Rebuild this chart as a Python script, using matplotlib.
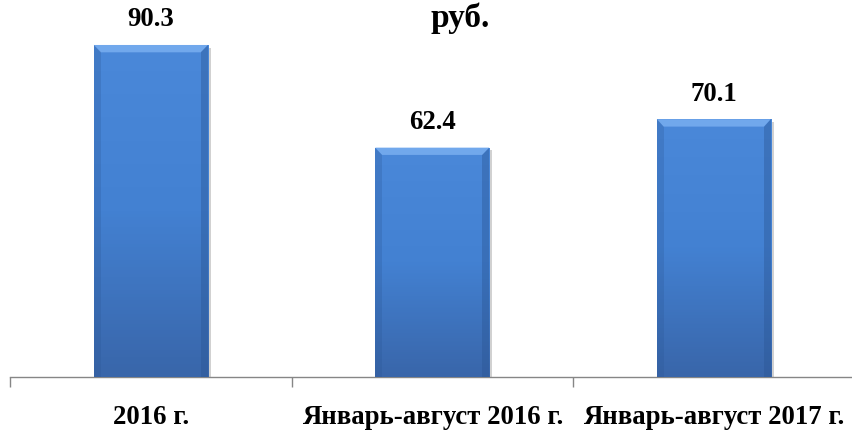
import numpy as np
import matplotlib
matplotlib.use('Agg')
import matplotlib.pyplot as plt
import matplotlib.patheffects as pe
from matplotlib.colors import LinearSegmentedColormap

categories = ['2016 г.', 'Январь-август 2016 г.', 'Январь-август 2017 г.']
values = [90.3, 62.4, 70.1]
title_text = 'руб.'

plt.rcParams['font.family'] = ['Liberation Serif', 'DejaVu Serif']
plt.rcParams['font.weight'] = 'bold'

fig = plt.figure(figsize=(8.52, 4.30), dpi=100)
ax = fig.add_axes([10 / 852, 53 / 430, 844.5 / 852, 367.7 / 430])

x = np.arange(len(categories))
bars = ax.bar(x, values, width=0.405, color='#4582d2', zorder=2,
              edgecolor='#2f5f9e', linewidth=0.6)

# soft drop shadow and vertical gradient like the office-style bars
grad = LinearSegmentedColormap.from_list('g', ['#3966aa', '#4381d2', '#4a88d9'])
for b in bars:
    b.set_path_effects([pe.SimplePatchShadow(offset=(2, -2), shadow_rgbFace='#9a9a9a',
                                              alpha=0.45), pe.Normal()])
    bx, bw, bh = b.get_x(), b.get_width(), b.get_height()
    img = ax.imshow(np.linspace(0, 1, 100).reshape(-1, 1), cmap=grad, origin='lower',
                    extent=(bx, bx + bw, 0, bh), aspect='auto', zorder=3)
    img.set_clip_path(b)
    # bevel highlight along the top edge
    ax.fill([bx, bx + bw, bx + bw * 0.94, bx + bw * 0.06],
            [bh, bh, bh - 2.0, bh - 2.0], color='#79aef0', alpha=0.85,
            zorder=4, lw=0)
    ax.fill([bx + bw, bx + bw, bx + bw * 0.94, bx + bw * 0.94],
            [bh, 0, 0, bh - 2.0], color='#2a5593', alpha=0.4, zorder=4, lw=0)
    ax.fill([bx, bx, bx + bw * 0.06, bx + bw * 0.06],
            [bh, 0, 0, bh - 2.0], color='#2a5593', alpha=0.25, zorder=4, lw=0)

for xi, v in zip(x, values):
    ax.annotate(f'{v:.1f}', (xi, v), xytext=(0, 18), textcoords='offset points',
                ha='center', va='center', fontsize=19.3, fontweight='bold')

ax.set_xlim(-0.5, len(categories) - 0.5)
ax.set_ylim(0, 100)
ax.set_xticks(x)
ax.set_xticklabels(categories, fontsize=19.3, fontweight='bold')
ax.set_xticks(np.arange(-0.5, len(categories)), minor=True)
ax.tick_params(axis='x', which='major', length=0, pad=20.5)
ax.tick_params(axis='x', which='minor', length=7, color='#868686', width=1)
ax.set_yticks([])
for s in ['top', 'right', 'left']:
    ax.spines[s].set_visible(False)
ax.spines['bottom'].set_color('#868686')
ax.spines['bottom'].set_linewidth(1)

fig.text(460 / 852, 1 - 18 / 430, title_text, ha='center', va='center',
         fontsize=24, fontweight='bold')

fig.savefig('out.png', dpi=100)
